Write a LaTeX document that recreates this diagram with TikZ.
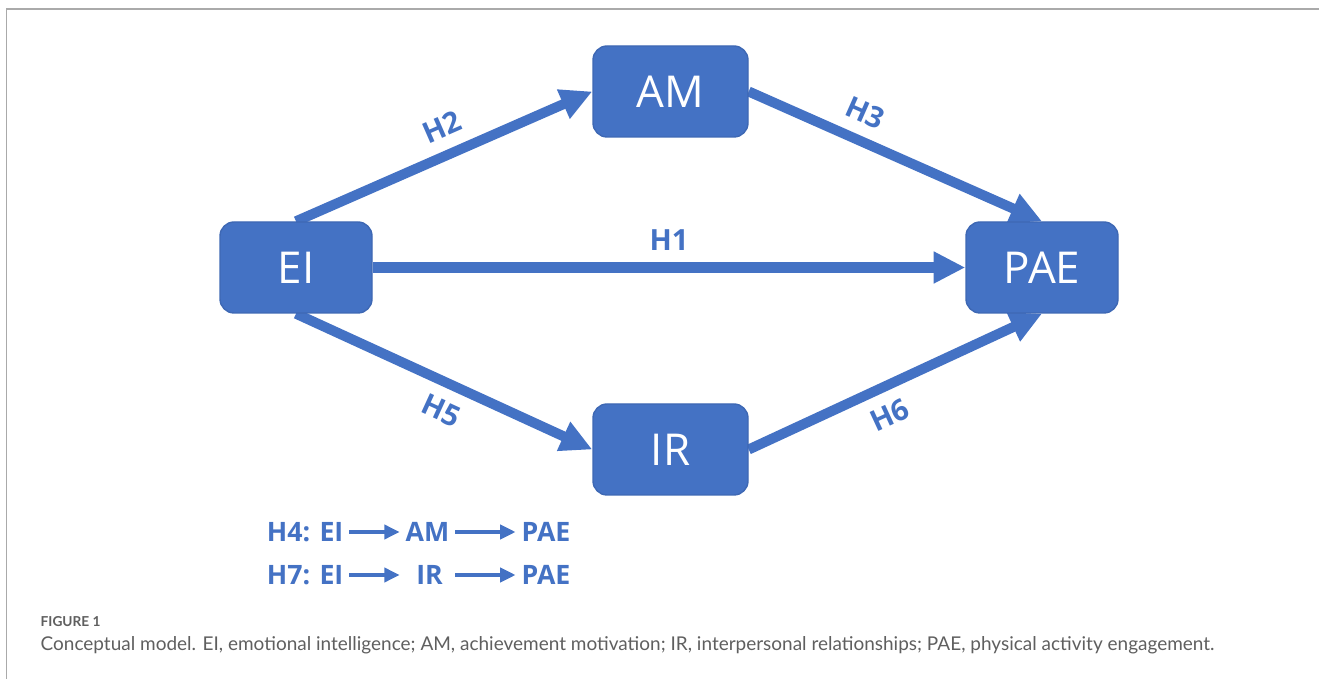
\documentclass[tikz,border=0pt]{standalone}
\usepackage{fontspec}
\setmainfont{Open Sans}
\newfontfamily\capfont{Lato}
\usetikzlibrary{arrows.meta, positioning, backgrounds}
\definecolor{boxblue}{RGB}{68, 114, 196}
\definecolor{boxedge}{RGB}{62, 104, 180}
\definecolor{framegray}{RGB}{170, 170, 170}
\definecolor{capgray}{RGB}{95, 95, 95}

\tikzset{
  varbox/.style={draw=boxedge, line width=0.4pt, fill=boxblue, rounded corners=4pt, text=white, font=\fontsize{12.5}{15}\selectfont, minimum width=1.52cm, minimum height=0.91cm, inner sep=0pt},
  patharrow/.style={draw=boxblue, line width=2.85pt, -{Triangle[length=9pt, width=8.5pt]}},
  hlabel/.style={sloped, text=boxblue, font=\fontsize{8.3}{10}\selectfont\bfseries, inner sep=3.4pt},
  legtext/.style={text=boxblue, font=\fontsize{7.6}{9}\selectfont\bfseries, inner xsep=1.5pt, inner ysep=2pt},
  legarrow/.style={draw=boxblue, line width=1.1pt, -{Triangle[length=4.4pt, width=4pt]}}
}

\begin{document}
\begin{tikzpicture}
  \useasboundingbox (0,0) rectangle (13.19,-6.79);
  % frame
  \draw[framegray, line width=0.5pt] (13.19,-0.09) -- (0.065,-0.09) -- (0.065,-6.79);

  % variables
  \node[varbox] (ei) at (2.96,-2.675) {EI};
  \node[varbox, minimum width=1.55cm] (am) at (6.705,-0.915) {AM};
  \node[varbox, minimum width=1.55cm] (ir) at (6.705,-4.495) {IR};
  \node[varbox] (pae) at (10.42,-2.675) {PAE};

  % hypothesised paths
  \begin{scope}[on background layer]
    \draw[patharrow] (ei.north) -- (am.west) node[hlabel, pos=0.53, above] {H2};
    \draw[patharrow] (am.east) -- (pae.north) node[hlabel, pos=0.36, above] {H3};
    \draw[patharrow] (ei.east) -- (pae.west) node[hlabel, pos=0.5, above] {H1};
    \draw[patharrow] (ei.south) -- (ir.west) node[hlabel, pos=0.53, below] {H5};
    \draw[patharrow] (ir.east) -- (pae.south) node[hlabel, pos=0.44, below] {H6};
  \end{scope}

  % mediation chains
  \node[legtext, anchor=west] (l4ei) at (2.61,-5.32) {H4: EI};
  \node[legtext] (l4am) at (4.275,-5.32) {AM};
  \node[legtext] (l4pae) at (5.46,-5.32) {PAE};
  \node[legtext, anchor=west] (l7ei) at (2.61,-5.75) {H7: EI};
  \node[legtext] (l7ir) at (4.295,-5.75) {IR};
  \node[legtext] (l7pae) at (5.46,-5.75) {PAE};
  \draw[legarrow] (l4ei) -- (l4am);
  \draw[legarrow] (l4am) -- (l4pae);
  \draw[legarrow] (l7ei) -- (l7ei -| l4am.west);
  \draw[legarrow] (l7ir.east -| l4am.east) -- (l7pae);

  % caption
  \node[anchor=west, text=capgray, font=\capfont\bfseries\fontsize{3.9}{4.7}\selectfont, inner sep=0pt] (figtag) at (0.40,-6.22) {FIGURE 1};
  \node[anchor=west, text=capgray, font=\capfont\fontsize{5.4}{6.5}\selectfont, inner sep=0pt] (caption) at (0.40,-6.45) {Conceptual model. EI, emotional intelligence; AM, achievement motivation; IR, interpersonal relationships; PAE, physical activity engagement.};
\end{tikzpicture}
\end{document}
